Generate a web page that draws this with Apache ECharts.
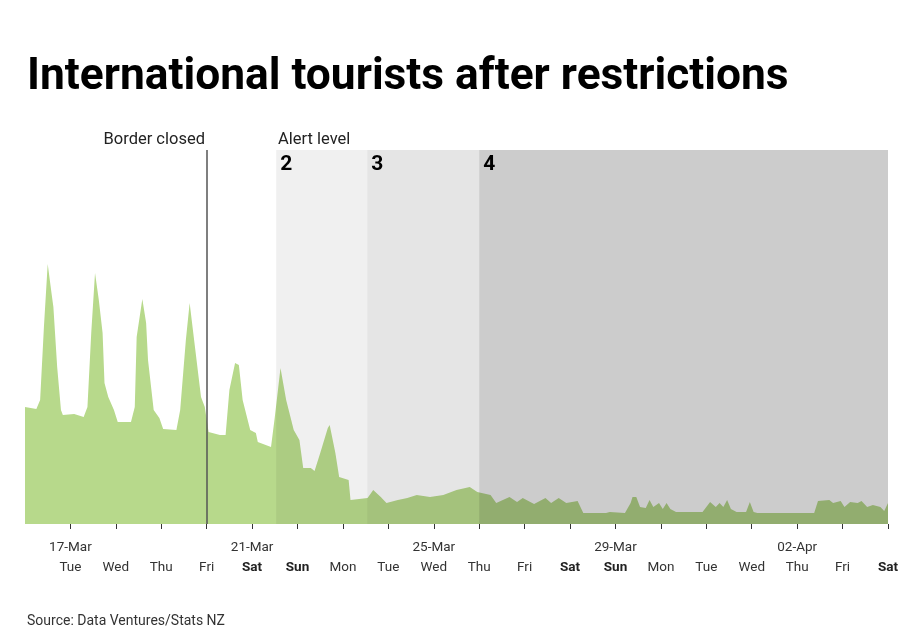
<!DOCTYPE html>
<html>
<head>
<meta charset="utf-8">
<script src="https://cdn.jsdelivr.net/npm/echarts@6/dist/echarts.min.js"></script>
<style>
  html, body { margin: 0; padding: 0; background: #fff; }
  #chart { width: 903px; height: 629px; }
</style>
</head>
<body>
<div id="chart"></div>
<script>
// hours since Mon 16 Mar 2020 00:00, and visitor level
const hours = [0, 6, 8, 10, 12, 14, 15, 17, 19, 20, 26, 31, 33, 35, 37, 39, 41, 42, 44, 47,
  49, 56, 58, 59, 62, 64, 65, 68, 71, 73, 80, 82, 85, 87, 90, 93, 95, 97, 103, 106,
  108, 111, 113, 115, 119, 122, 123, 130, 132, 135, 138, 142, 145, 147, 151, 153, 156, 160, 161, 164,
  166, 171, 172, 181, 184, 188, 191, 197, 202, 207, 214, 221, 228, 235, 239, 246, 249, 256, 260, 263,
  269, 275, 278, 282, 286, 292, 295, 307, 309, 317, 320, 321, 323, 325, 328, 330, 332, 335, 337, 339,
  341, 344, 358, 362, 365, 367, 369, 371, 373, 376, 381, 383, 385, 387, 417, 419, 425, 427, 431, 433,
  436, 440, 442, 445, 448, 452, 454, 456];
const visitors = [117, 115, 124, 197, 260, 231, 217, 157, 114, 109, 110, 107, 117, 191, 251, 224, 191, 141, 127, 114,
  102, 102, 117, 187, 225, 201, 164, 114, 106, 95, 94, 114, 184, 221, 174, 127, 117, 92, 89, 89,
  134, 161, 159, 124, 94, 91, 82, 77, 107, 156, 124, 94, 84, 56, 56, 53, 71, 96, 99, 71,
  47, 44, 24, 26, 34, 27, 21, 24, 26, 29, 27, 29, 34, 37, 32, 29, 21, 27, 22, 26,
  20, 26, 21, 26, 21, 23, 11, 11, 12, 11, 21, 27, 27, 17, 16, 24, 17, 21, 15, 21,
  15, 12, 12, 22, 17, 21, 17, 24, 15, 12, 12, 22, 12, 11, 11, 23, 24, 21, 23, 17,
  22, 21, 23, 17, 19, 17, 13, 21];

const weekdays = ['Tue', 'Wed', 'Thu', 'Fri', 'Sat', 'Sun', 'Mon', 'Tue', 'Wed', 'Thu',
  'Fri', 'Sat', 'Sun', 'Mon', 'Tue', 'Wed', 'Thu', 'Fri', 'Sat'];
const dateLabels = { 1: '17-Mar', 5: '21-Mar', 9: '25-Mar', 13: '29-Mar', 17: '02-Apr' };

const borderClosed = 96;          // Fri 20 Mar 00:00
const alertLevels = [
  { name: '2', from: 132.7, to: 180.8, alpha: 0.06 },
  { name: '3', from: 180.8, to: 240, alpha: 0.1 },
  { name: '4', from: 240, to: 456, alpha: 0.2 }
];

const tickValues = weekdays.map((d, i) => (i + 1) * 24);
const data = hours.map((h, i) => [h, visitors[i]]);

const chart = echarts.init(document.getElementById('chart'));

const option = {
  animation: false,
  textStyle: { fontFamily: 'Roboto' },
  grid: { left: 25, right: 15, top: 150, bottom: 105 },
  xAxis: {
    type: 'value',
    min: 0,
    max: 456,
    offset: 1,
    splitLine: { show: false },
    axisLine: { show: false },
    axisTick: {
      show: true,
      length: 5,
      lineStyle: { color: '#333' },
      customValues: tickValues
    },
    axisLabel: {
      customValues: tickValues,
      margin: 12,
      formatter(v) {
        const d = Math.round(v / 24);
        const wd = weekdays[d - 1];
        const date = dateLabels[d] || ' ';
        const style = (wd === 'Sat' || wd === 'Sun') ? 'b' : 'w';
        return '{d|' + date + '}\n{' + style + '|' + wd + '}';
      },
      rich: {
        d: { fontSize: 13.5, color: '#333', lineHeight: 20.5, fontFamily: 'Roboto' },
        w: { fontSize: 13.5, color: '#333', lineHeight: 20.5, fontFamily: 'Roboto' },
        b: { fontSize: 13.5, color: '#222', lineHeight: 20.5, fontWeight: 'bold', fontFamily: 'Roboto' }
      }
    }
  },
  yAxis: {
    type: 'value',
    min: 0,
    max: 374,
    show: false,
    splitLine: { show: false }
  },
  series: [
    {
      type: 'line',
      data,
      symbol: 'none',
      lineStyle: { width: 0 },
      areaStyle: { color: '#b7d98b', opacity: 1 },
      z: 2
    },
    {
      type: 'line',
      data,
      symbol: 'none',
      lineStyle: { width: 0, opacity: 0 },
      z: 5,
      markArea: {
        silent: true,
        z: 5,
        label: {
          show: true,
          position: 'insideTopLeft',
          distance: 4,
          fontSize: 21,
          fontWeight: 'bold',
          color: '#000',
          fontFamily: 'Roboto'
        },
        data: alertLevels.map(a => [
          { name: a.name, xAxis: a.from, itemStyle: { color: 'rgba(0,0,0,' + a.alpha + ')' } },
          { xAxis: a.to }
        ])
      },
      markLine: {
        silent: true,
        symbol: 'none',
        z: 6,
        label: { show: false },
        lineStyle: { color: '#555', width: 1.5, type: 'solid' },
        data: [{ xAxis: borderClosed }]
      }
    }
  ],
  graphic: [
    {
      type: 'text', left: 27, top: 56,
      style: { text: 'International tourists after restrictions', font: 'bold 44.3px Roboto', fill: '#000' }
    },
    {
      type: 'text', right: 903 - 205, top: 131,
      style: { text: 'Border closed', font: '16.5px Roboto', fill: '#222' }
    },
    {
      type: 'text', left: 278, top: 131,
      style: { text: 'Alert level', font: '16.5px Roboto', fill: '#222' }
    },
    {
      type: 'text', left: 27, top: 614,
      style: { text: 'Source: Data Ventures/Stats NZ', font: '14px Roboto', fill: '#333' }
    }
  ]
};

chart.setOption(option);
</script>
</body>
</html>
